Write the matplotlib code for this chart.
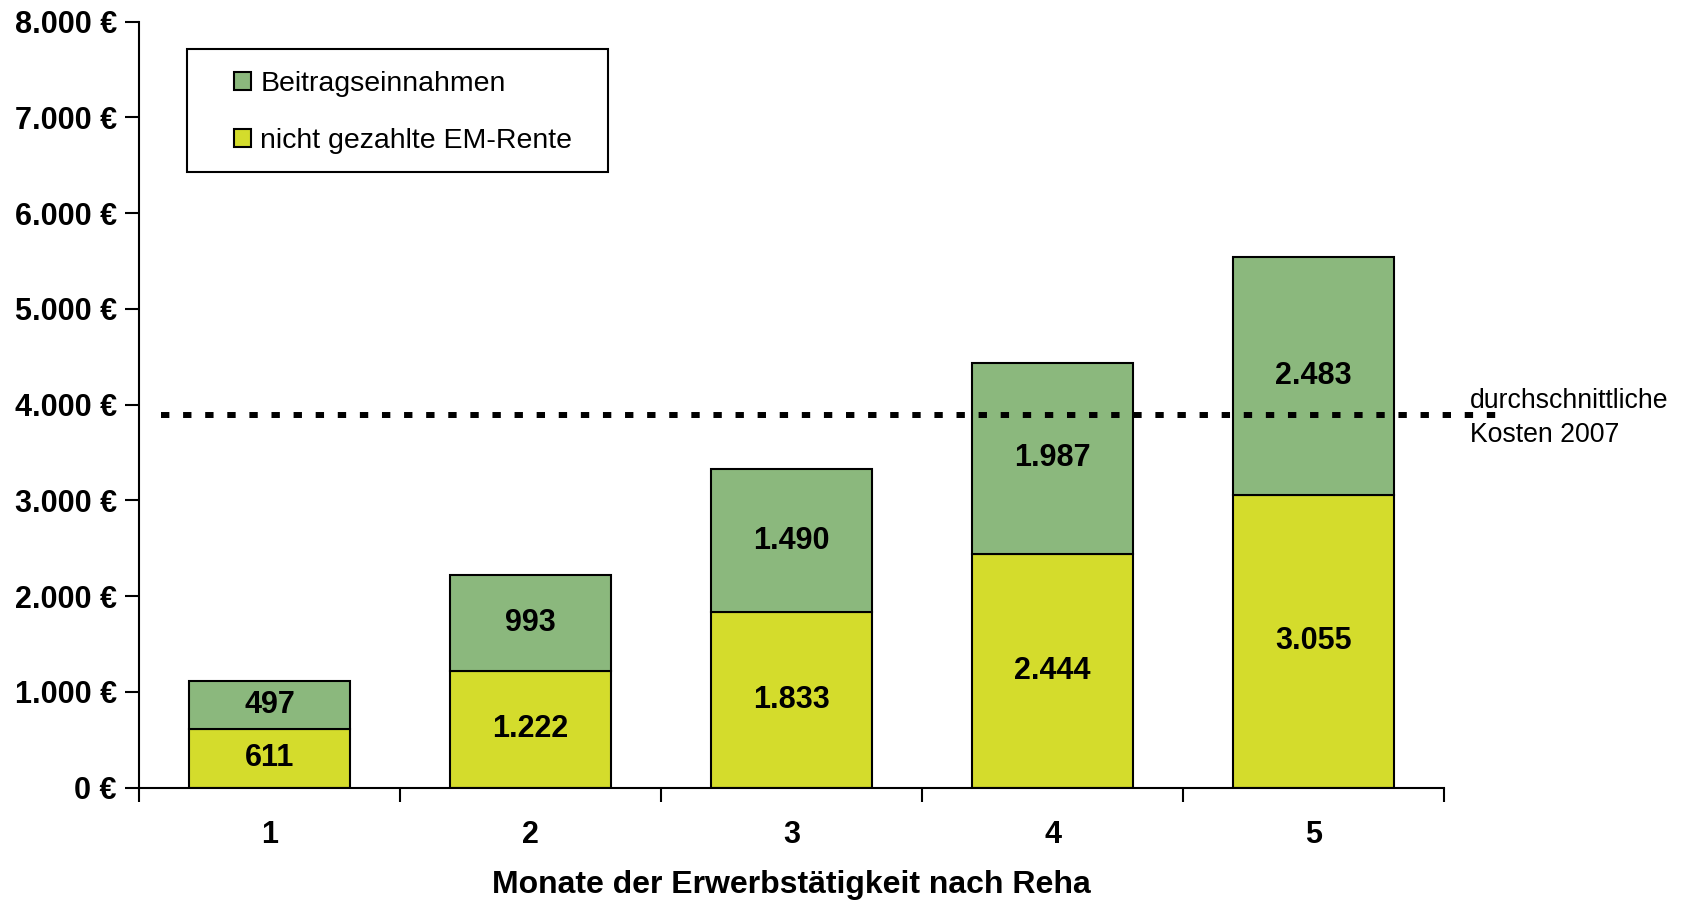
import numpy as np
import matplotlib.pyplot as plt
from matplotlib.patches import Rectangle, Patch

plt.rcParams['font.family'] = ['Liberation Sans', 'DejaVu Sans']

monate = ['1', '2', '3', '4', '5']
em_rente = [611, 1222, 1833, 2444, 3055]
beitrag = [497, 993, 1490, 1987, 2483]
kosten_2007 = 3890
y_ticks = [0, 1000, 2000, 3000, 4000, 5000, 6000, 7000, 8000]
y_labels = ['0 €', '1.000 €', '2.000 €', '3.000 €', '4.000 €', '5.000 €', '6.000 €', '7.000 €', '8.000 €']

green = '#8BB87D'
yellow = '#D4DC2C'

def fmt(v):
    return f'{v:,}'.replace(',', '.')

fig = plt.figure(figsize=(16.87, 9), dpi=100)
ax = fig.add_axes([0.0824, 0.1249, 0.7736, 0.8512])

x = np.arange(len(monate))
b1 = ax.bar(x, em_rente, width=0.62, color=yellow, edgecolor='black', linewidth=1.5,
            label='nicht gezahlte EM-Rente', zorder=2)
b2 = ax.bar(x, beitrag, bottom=em_rente, width=0.62, color=green, edgecolor='black',
            linewidth=1.5, label='Beitragseinnahmen', zorder=2)

for i in range(len(monate)):
    ax.text(x[i], em_rente[i] / 2, fmt(em_rente[i]), ha='center', va='center',
            fontsize=22, fontweight='bold', zorder=4)
    ax.text(x[i], em_rente[i] + beitrag[i] / 2, fmt(beitrag[i]), ha='center', va='center',
            fontsize=22, fontweight='bold', zorder=4)

# dotted average-cost line, runs past the right end of the axis
ax.plot([-0.416, 4.73], [kosten_2007, kosten_2007], color='black', lw=4.3,
        linestyle=(0, (1.4, 2.3)), dash_capstyle='butt', clip_on=False, zorder=3)
ax.text(1.02, kosten_2007 - 30, 'durchschnittliche\nKosten 2007', transform=ax.get_yaxis_transform(),
        ha='left', va='center', fontsize=19.2, linespacing=1.4)

ax.set_xlim(-0.5, 4.5)
ax.set_ylim(0, 8000)
ax.set_yticks(y_ticks)
ax.set_yticklabels(y_labels, fontsize=22, fontweight='bold')
ax.set_xticks(x)
ax.set_xticklabels(monate, fontsize=22, fontweight='bold')
ax.set_xticks(np.arange(-0.5, 5, 1), minor=True)
ax.tick_params(axis='x', which='major', length=0, pad=23)
ax.tick_params(axis='x', which='minor', length=10, width=1.5, direction='out')
ax.tick_params(axis='y', length=10, width=1.5, direction='out', pad=6)
ax.set_xlabel('Monate der Erwerbstätigkeit nach Reha', fontsize=23, fontweight='bold', labelpad=15)

for s in ['top', 'right']:
    ax.spines[s].set_visible(False)
for s in ['left', 'bottom']:
    ax.spines[s].set_linewidth(1.5)

# legend box
ax.add_patch(Rectangle((0.0368, 0.8037), 0.3226, 0.1599, transform=ax.transAxes,
                       facecolor='white', edgecolor='black', lw=1.5, zorder=5, clip_on=False))
handles = [Patch(facecolor=green, edgecolor='black', lw=1.5, label='Beitragseinnahmen'),
           Patch(facecolor=yellow, edgecolor='black', lw=1.5, label='nicht gezahlte EM-Rente')]
leg = ax.legend(handles=handles, loc='center left', bbox_to_anchor=(0.0728, 0.881),
                frameon=False, fontsize=20.5, borderpad=0, borderaxespad=0,
                handlelength=0.6, handleheight=0.6, handletextpad=0.32, labelspacing=1.1)
leg.set_zorder(6)

fig.savefig('out.png', dpi=100)
print('Done: out.png')
